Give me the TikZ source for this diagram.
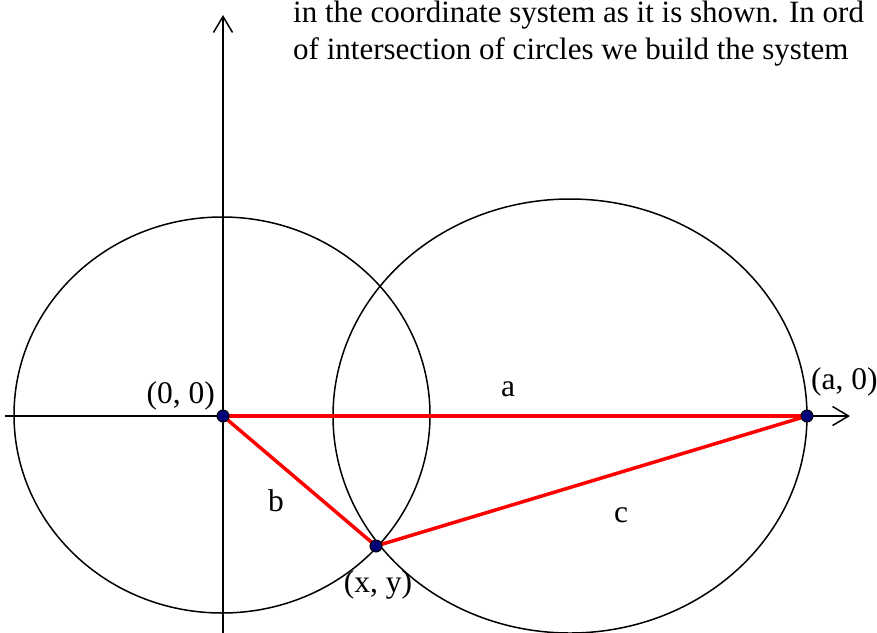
\documentclass[tikz,border=0pt]{standalone}
\usepackage{fontspec}
\setmainfont{Liberation Serif}
\usetikzlibrary{arrows.meta}
\begin{document}
\begin{tikzpicture}[x=1pt,y=-1pt,
  axis/.style={line width=1.5pt,-{Straight Barb[length=16pt,width=19pt,line width=1.5pt]}},
  circ/.style={line width=1.5pt},
  seg/.style={red,line width=3.5pt},
  dot/.style={circle,fill={rgb,255:red,0;green,0;blue,120},draw=black,line width=1pt,minimum size=12pt,inner sep=0pt},
  lbl/.style={font=\fontsize{31.5}{36}\selectfont,inner sep=0pt},
  txt/.style={font=\fontsize{31}{38}\selectfont,inner sep=0pt,anchor=base west,text height=21pt,text depth=7pt}]
\useasboundingbox (0,0) rectangle (877,632);
\clip (0,0) rectangle (877,632);
% text at top
\node[txt] (t1) at (293,22) {in the coordinate system as it is shown. In ord};
\node[txt] (t2) at (293,59) {of intersection of circles we build the system};
% axes
\coordinate (yb) at (223,640);
\coordinate (yt) at (223,15);
\coordinate (xl) at (5,416);
\coordinate (xr) at (850,416);
\draw[axis] (yb) -- (yt);
\draw[axis] (xl) -- (xr);
% circles
\draw[circ] (222,415) ellipse [x radius=208, y radius=198];
\draw[circ] (570,416) ellipse [x radius=237, y radius=217];
% points
\coordinate (O) at (223,416);
\coordinate (A) at (807,416);
\coordinate (P) at (376,546);
\draw[seg] (O) -- (A);
\draw[seg] (O) -- (P);
\draw[seg] (P) -- (A);
\node[dot] (dO) at (O) {};
\node[dot] (dA) at (A) {};
\node[dot] (dP) at (P) {};
% labels
\node[lbl,anchor=base east] (lO) at (215,403) {(0, 0)};
\node[lbl,anchor=base west] (lA) at (811,389) {(a, 0)};
\node[lbl,anchor=base] (lP) at (378,592) {(x, y)};
\node[lbl,anchor=base] (la) at (508,396) {a};
\node[lbl,anchor=base] (lb) at (276,511) {b};
\node[lbl,anchor=base] (lc) at (621,522) {c};
\end{tikzpicture}
\end{document}
